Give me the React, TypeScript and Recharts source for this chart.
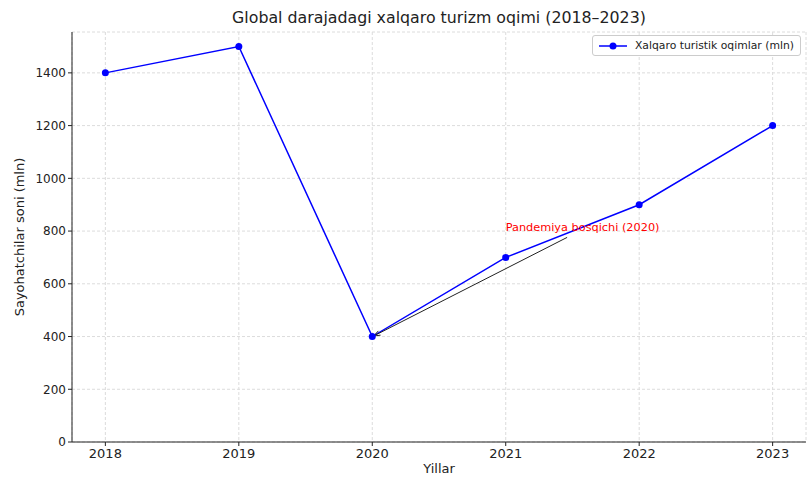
import React from 'react';
import {
  LineChart, Line, XAxis, YAxis, CartesianGrid, ReferenceLine, ReferenceDot, Label,
} from 'recharts';

// data
const years = [2018, 2019, 2020, 2021, 2022, 2023];
const tourists = [1400, 1500, 400, 700, 900, 1200];
const yTicks = [0, 200, 400, 600, 800, 1000, 1200, 1400];

const seriesName = 'Xalqaro turistik oqimlar (mln)';
const noteText = 'Pandemiya bosqichi (2020)';
const noteAt = { x: 2021, y: 800 };
const arrowFrom = { x: 2021.46, y: 776 };
const arrowTo = { x: 2020.01, y: 402 };

const data = years.map((y, i) => ({ year: y, value: tourists[i] }));

const FONT = '"DejaVu Sans", sans-serif';

// arrow drawn from the segment end points given by ReferenceLine
const Arrow = (p: any) => {
  const { x1, y1, x2, y2 } = p;
  const ang = Math.atan2(y2 - y1, x2 - x1);
  const len = 7;
  const a1 = ang + Math.PI - 0.35;
  const a2 = ang + Math.PI + 0.35;
  return (
    <g>
      <line x1={x1} y1={y1} x2={x2} y2={y2} stroke="#222" strokeWidth={1} />
      <polyline
        points={`${x2 + len * Math.cos(a1)},${y2 + len * Math.sin(a1)} ${x2},${y2} ${x2 + len * Math.cos(a2)},${y2 + len * Math.sin(a2)}`}
        fill="none"
        stroke="#222"
        strokeWidth={1}
      />
    </g>
  );
};

const NoteText = (p: any) => (
  <text x={p.cx} y={p.cy} fill="#ff0000" fontSize={11.3} fontFamily={FONT}>
    {noteText}
  </text>
);

const LegendBox = () => (
  <div
    style={{
      position: 'absolute',
      top: 35,
      right: 6,
      border: '1px solid #ccc',
      borderRadius: 3,
      background: '#fff',
      padding: '3px 6px',
      display: 'flex',
      alignItems: 'center',
      fontFamily: FONT,
      fontSize: 10.8,
      color: '#222',
    }}
  >
    <svg width={28} height={10} style={{ marginRight: 8 }}>
      <line x1={0} y1={5} x2={28} y2={5} stroke="#0000ff" strokeWidth={1.5} />
      <circle cx={14} cy={5} r={3.5} fill="#0000ff" />
    </svg>
    {seriesName}
  </div>
);

export default function App() {
  return (
    <div style={{ position: 'absolute', left: 0, top: 0, width: 807, height: 477, background: '#fff' }}>
      <div
        style={{
          position: 'absolute', top: 8, left: 72, width: 734, textAlign: 'center',
          fontFamily: FONT, fontSize: 15.8, color: '#222',
        }}
      >
        Global darajadagi xalqaro turizm oqimi (2018–2023)
      </div>
      <LineChart width={807} height={477} data={data} margin={{ top: 32, right: 1, bottom: 0, left: 0 }}>
        <CartesianGrid strokeDasharray="3 2" stroke="#dcdcdc" />
        <XAxis
          dataKey="year"
          type="number"
          domain={[2017.75, 2023.25]}
          ticks={years}
          height={35}
          tick={{ fill: '#222', fontSize: 13, fontFamily: FONT }}
          tickSize={4}
          tickMargin={3}
          stroke="#222"
          allowDataOverflow
        >
          <Label value="Yillar" position="insideBottom" offset={4} fill="#222" fontSize={13} fontFamily={FONT} />
        </XAxis>
        <YAxis
          type="number"
          domain={[0, 1555]}
          ticks={yTicks}
          width={72}
          tick={{ fill: '#222', fontSize: 12, fontFamily: FONT }}
          tickSize={4}
          tickMargin={2}
          stroke="#222"
          allowDataOverflow
        >
          <Label
            value="Sayohatchilar soni (mln)"
            angle={-90}
            position="insideLeft"
            offset={19}
            style={{ textAnchor: 'middle' }}
            fill="#222"
            fontSize={13}
            fontFamily={FONT}
          />
        </YAxis>
        <Line
          dataKey="value"
          name={seriesName}
          stroke="#0000ff"
          strokeWidth={1.5}
          dot={{ r: 3.5, fill: '#0000ff', stroke: '#0000ff', strokeWidth: 0 }}
          activeDot={false}
          isAnimationActive={false}
        />
        <ReferenceLine
          segment={[arrowFrom, arrowTo]}
          shape={<Arrow />}
          ifOverflow="visible"
        />
        <ReferenceDot x={noteAt.x} y={noteAt.y} r={0} shape={<NoteText />} ifOverflow="visible" />
      </LineChart>
      <LegendBox />
    </div>
  );
}
